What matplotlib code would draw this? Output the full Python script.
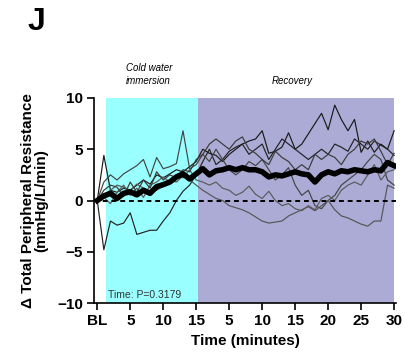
import matplotlib
matplotlib.use("Agg")
import matplotlib.pyplot as plt
import numpy as np

plt.rcParams['font.family'] = ['Liberation Sans', 'DejaVu Sans']

# x index: 0 = BL, 1..15 cold water immersion minutes, 16..45 recovery minutes 1..30
minutes = list(range(46))
tick_pos = [0, 5, 10, 15, 20, 25, 30, 35, 40, 45]
tick_labels = ["BL", "5", "10", "15", "5", "10", "15", "20", "25", "30"]

mean_tpr = [0, 0.45, 0.7, 0.2, 0.7, 0.85, 0.55, 1.0, 0.7, 1.35, 1.55, 1.8, 2.3, 2.6, 2.1, 2.6,
            3.1, 2.5, 2.9, 3.0, 3.2, 3.0, 3.2, 3.0, 3.0, 2.8, 2.3, 2.5, 2.4, 2.6, 2.8,
            2.6, 2.5, 1.8, 2.5, 2.8, 2.6, 2.9, 2.8, 3.0, 2.9, 2.8, 3.0, 2.9, 3.7, 3.4]

subj1 = [0, 4.4, 1.0, 0.8, 1.2, 1.0, 1.5, 2.0, 1.6, 2.5, 2.2, 2.6, 3.0, 2.8, 3.3, 3.8,
         5.0, 4.6, 4.4, 3.8, 4.5, 5.0, 5.5, 5.8, 6.0, 6.8, 4.6, 4.8, 5.2, 6.6, 5.0,
         5.5, 6.5, 7.5, 8.5, 6.9, 9.3, 7.9, 6.8, 7.9, 4.7, 5.8, 4.7, 5.5, 5.0, 6.8]
subj2 = [0, -4.8, -2.0, -2.4, -2.2, -1.2, -3.3, -3.1, -2.9, -2.9, -2.0, -1.2, 0.0, 0.9, 1.5, 2.5,
         3.8, 5.0, 3.5, 4.0, 4.8, 5.2, 5.5, 4.5, 5.0, 5.5, 4.0, 5.0, 6.0, 5.5, 5.0,
         4.5, 4.0, 4.5, 5.0, 4.5, 5.5, 5.2, 4.8, 6.0, 5.5, 5.0, 5.8, 5.4, 5.0, 4.4]
subj3 = [0, 1.8, 2.5, 2.0, 2.6, 3.0, 3.4, 4.0, 2.3, 4.2, 3.1, 3.3, 3.6, 6.8, 3.1, 3.5,
         4.5, 3.8, 5.0, 4.0, 3.0, 2.5, 3.0, 3.8, 3.4, 4.0, 3.0, 2.0, 2.5, 3.2, 1.5,
         0.5, 1.0, -0.5, -0.8, 0.0, 0.5, 1.5, 2.0, 2.5, 3.0, 3.8, 4.5, 4.0, 2.0, 1.5]
subj4 = [0, 0.5, 1.0, 1.5, 1.3, 1.0, 1.6, 1.2, 0.8, 1.0, 1.4, 2.0, 1.8, 2.4, 2.0, 1.5,
         1.0, 0.6, 0.2, 0.0, -0.5, -0.7, -0.9, -1.2, -1.6, -2.0, -2.2, -2.1, -2.0, -1.5, -1.2,
         -0.9, -0.6, -1.0, -0.5, 0.0, -0.9, -1.5, -1.7, -2.0, -2.3, -2.5, -2.0, -2.0, 1.5, 1.2]
subj5 = [0, 0.3, -0.3, 0.8, 1.5, 0.5, 1.2, 0.3, 1.5, 1.8, 2.3, 1.8, 2.5, 2.2, 3.0, 2.0,
         1.8, 1.5, 1.8, 1.2, 1.0, 0.5, 0.8, 1.4, 0.6, 0.2, 0.9, 0.0, -0.5, -0.3, -0.8,
         -1.0, -0.5, -0.9, 0.2, 0.5, 0.0, 1.0, 1.5, 1.8, 1.5, 2.5, 3.5, 2.0, 2.8, 3.0]
subj6 = [0, 1.0, 1.5, 1.3, 0.4, 1.8, 0.8, 2.0, 1.2, 2.8, 2.0, 2.5, 2.2, 3.0, 2.8, 4.0,
         4.5, 5.5, 6.0, 5.5, 5.0, 5.8, 6.2, 5.0, 4.6, 4.0, 3.5, 4.8, 4.2, 3.8, 3.0,
         3.5, 3.0, 4.5, 4.0, 4.5, 4.2, 3.5, 4.5, 5.0, 5.8, 5.5, 6.0, 4.8, 3.5, 4.6]

subjects = [subj1, subj2, subj3, subj4, subj5, subj6]
subj_colors = ["#1a1a1a", "#222222", "#444444", "#555555", "#5a5a5a", "#3a3a3a"]

fig = plt.figure(figsize=(4.05, 3.6), dpi=100)
ax = fig.add_axes([0.232, 0.158, 0.746, 0.57])

ax.axvspan(1.4, 15.3, ymin=0, ymax=1, color="#99FFFF", lw=0, zorder=0)
ax.axvspan(15.3, 45, ymin=0, ymax=1, color="#ABABD6", lw=0, zorder=0)

for s, c in zip(subjects, subj_colors):
    ax.plot(minutes, s, color=c, lw=0.85, zorder=2)

ax.axhline(0, color="black", lw=1.4, ls=(0, (2.5, 2)), zorder=3)
ax.plot(minutes, mean_tpr, color="black", lw=4, solid_joinstyle="round", zorder=4)

ax.set_xlim(-0.5, 45.3)
ax.set_ylim(-10, 10)
ax.set_yticks([-10, -5, 0, 5, 10])
ax.set_xticks(tick_pos)
ax.set_xticklabels(tick_labels)
for lab in ax.get_xticklabels() + ax.get_yticklabels():
    lab.set_fontweight("bold")
    lab.set_fontsize(11)
ax.tick_params(direction="out", length=5, width=1.2, pad=3)
for sp in ["top", "right"]:
    ax.spines[sp].set_visible(False)
for sp in ["left", "bottom"]:
    ax.spines[sp].set_linewidth(1.2)

ax.set_xlabel("Time (minutes)", fontsize=11, fontweight="bold", labelpad=4)
ax.set_ylabel("Δ Total Peripheral Resistance\n(mmHg/L/min)", fontsize=11,
              fontweight="bold", labelpad=6, linespacing=1.0)

ax.text(1.7, -9.2, "Time: P=0.3179", fontsize=7.5, color="#333333", va="center", ha="left")
ax.text(7.8, 11.2, "Cold water\nimmersion", fontsize=7, style="italic", ha="center",
        va="bottom", linespacing=1.3)
ax.text(29.5, 11.2, "Recovery", fontsize=7, style="italic", ha="center", va="bottom")

fig.text(0.068, 0.94, "J", fontsize=23, fontweight="bold", ha="left", va="center")

fig.savefig("out.png", dpi=100)
